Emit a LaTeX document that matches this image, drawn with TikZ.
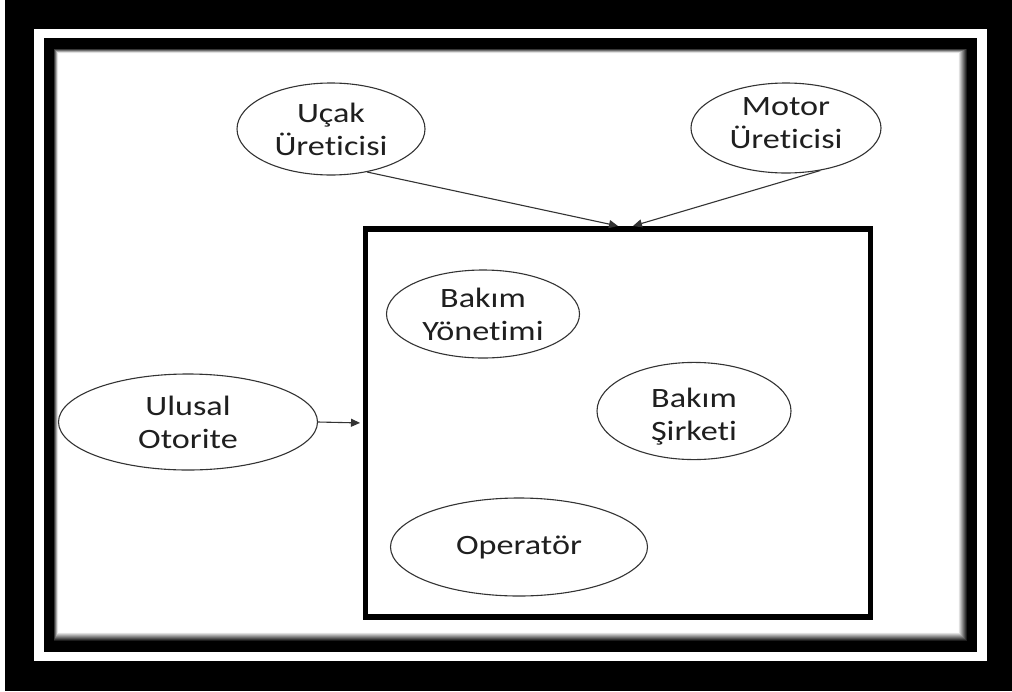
\documentclass[tikz,border=0pt]{standalone}
\usepackage{fontspec}
\setmainfont{Carlito}[FakeStretch=1.22,Ligatures={NoCommon}]
\usetikzlibrary{shapes.geometric,arrows.meta}
\begin{document}
\begin{tikzpicture}[x=1pt,y=-1pt,
  actor/.style={draw=black!80,line width=1.1pt,ellipse,inner sep=0pt,
    align=center,font=\fontsize{28}{33}\selectfont,text=black!88},
  link/.style={draw=black!80,line width=1.1pt,-{Triangle[length=9pt,width=8pt]}}]
\useasboundingbox (0,0) rectangle (1012,691);
% frame: black mat, white band, black band, white sheet with inner shadow
\fill[white] (0,0) rectangle (1012,691);
\fill[black] (5,0) rectangle (1012,691);
\fill[white] (34,29) rectangle (987,661);
\fill[black] (44,38) rectangle (977,652);
\foreach \i in {0,...,10}{
  \pgfmathsetmacro{\g}{min(100,\i*11)}
  \fill[black!\fpeval{100-\g}!white] (53+\i*0.55,48+\i*0.55) rectangle (968-\i*1.0,642-\i*1.0);
}
% organisation box
\node[draw=black,line width=5.5pt,minimum width=505pt,minimum height=388pt,inner sep=0pt] (org) at (618,423) {};
% actors
\node[actor,minimum width=188pt,minimum height=92pt] (ucak) at (331,129) {Uçak\\Üreticisi};
\node[actor,minimum width=190pt,minimum height=90pt,text depth=10pt] (motor) at (786,128) {Motor\\Üreticisi};
\node[actor,minimum width=193pt,minimum height=88pt] (yon) at (483,314) {Bakım\\Yönetimi};
\node[actor,minimum width=194pt,minimum height=90pt,text height=64pt] (sirket) at (694,411) {Bakım\\Şirketi};
\node[actor,minimum width=259pt,minimum height=96pt] (ulusal) at (188,422) {Ulusal\\Otorite};
\node[actor,minimum width=257pt,minimum height=98pt] (oper) at (519,547) {Operatör};
% connectors
\coordinate (t1) at (618,226);
\coordinate (t2) at (633,226);
\draw[link] (ucak.-50) -- (t1);
\draw[link] (motor.-51) -- (t2);
\draw[link,shorten >=2.75pt] (ulusal.east) -- (org.west);
\end{tikzpicture}
\end{document}
